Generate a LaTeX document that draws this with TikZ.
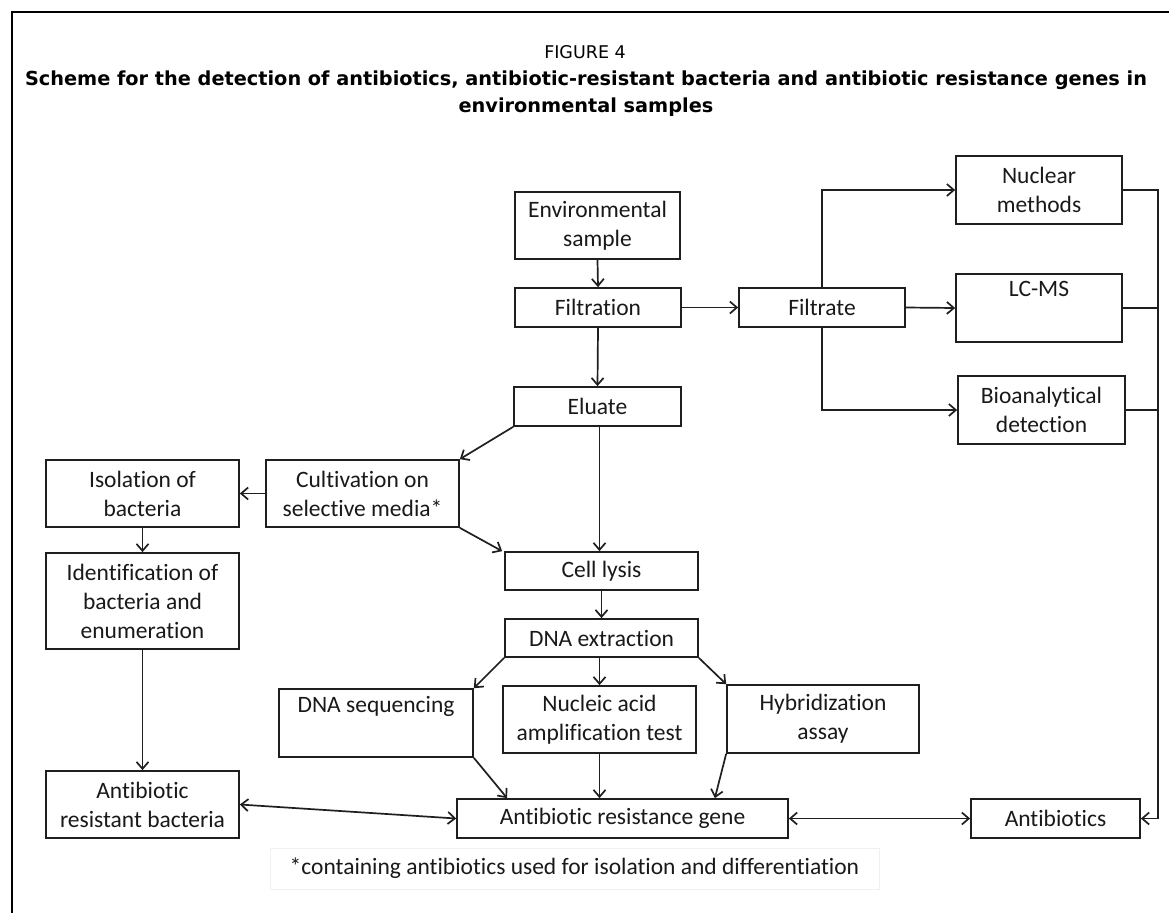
\documentclass[tikz,border=0pt]{standalone}
\usepackage{fontspec}
\setmainfont{Carlito}[Ligatures=NoCommon]
\newfontfamily\titlefont{DejaVu Sans}
\usetikzlibrary{arrows.meta,calc}
\begin{document}
\begin{tikzpicture}[x=1pt,y=-1pt,
  box/.style={draw=black!88, line width=1.7pt, inner sep=0pt, align=center,
    font=\fontsize{23.5}{29}\selectfont, text=black!90},
  arr/.style={draw=black!88, line width=1.7pt, -{Straight Barb[length=7pt,width=12pt]}},
  darr/.style={draw=black!88, line width=1.7pt, {Straight Barb[length=7pt,width=12pt]}-{Straight Barb[length=7pt,width=12pt]}},
  ln/.style={draw=black!88, line width=1.7pt},
  ttl/.style={inner sep=0pt, text=black, font=\titlefont\fontsize{17.5}{21}\selectfont},
  ttlb/.style={inner sep=0pt, text=black, font=\titlefont\bfseries\fontsize{19.3}{23}\selectfont}]
\useasboundingbox (0,0) rectangle (1169,913);
\fill[white] (0,0) rectangle (1169,913);
\draw[line width=1.3pt] (12,913) -- (12,12) -- (1169,12);

% title
\node[ttl] (fig) at (585,52) {FIGURE 4};
\node[ttlb] (t1) at (586,80) {Scheme for the detection of antibiotics, antibiotic-resistant bacteria and antibiotic resistance genes in};
\node[ttlb] (t2) at (586,107) {environmental samples};

% boxes
\node[box, minimum width=165pt, minimum height=67pt] (env) at (597.5,225.5) {Environmental\\sample};
\node[box, minimum width=166pt, minimum height=39pt] (filt) at (598,307.5) {Filtration};
\node[box, minimum width=166pt, minimum height=39pt] (filtrate) at (822,307.5) {Filtrate};
\node[box, minimum width=166pt, minimum height=68pt] (nuc) at (1039,190) {Nuclear\\methods};
\node[box, minimum width=166pt, minimum height=68pt] (lcms) at (1039,308) {LC-MS\\\strut};
\node[box, minimum width=167pt, minimum height=68pt] (bio) at (1041.5,410) {Bioanalytical\\detection};
\node[box, minimum width=167pt, minimum height=39pt] (eluate) at (597.5,406.5) {Eluate};
\node[box, minimum width=193pt, minimum height=67pt] (cult) at (362.5,493.5) {Cultivation on\\selective media*};
\node[box, minimum width=193pt, minimum height=67pt] (iso) at (142.5,493.5) {Isolation of\\bacteria};
\node[box, minimum width=193pt, minimum height=96pt] (ident) at (142.5,601) {Identification of\\bacteria and\\enumeration};
\node[box, minimum width=193pt, minimum height=67pt] (arb) at (142.5,804.5) {Antibiotic\\resistant bacteria};
\node[box, minimum width=193pt, minimum height=38pt] (cell) at (601.5,571) {Cell lysis};
\node[box, minimum width=193pt, minimum height=38pt] (dnaex) at (601.5,638) {DNA extraction};
\node[box, minimum width=194pt, minimum height=68pt] (dnaseq) at (376,723) {DNA sequencing\\\strut};
\node[box, minimum width=193pt, minimum height=67pt] (naat) at (599.5,719.5) {Nucleic acid\\amplification test};
\node[box, minimum width=192pt, minimum height=68pt] (hyb) at (823,719) {Hybridization\\assay};
\node[box, minimum width=331pt, minimum height=39pt] (arg) at (622.5,818.5) {Antibiotic resistance gene};
\node[box, minimum width=169pt, minimum height=39pt] (abx) at (1055.5,818.5) {Antibiotics};
\node[box, draw=black!6, line width=1pt, minimum width=609pt, minimum height=41pt] (foot) at (574.5,868.5) {*containing antibiotics used for isolation and differentiation};

% connectors
\draw[arr] (env.south) -- (filt.north);
\draw[arr] (filt.east) -- (filtrate.west);
\draw[arr] (filt.south) -- (eluate.north);
\draw[arr] (filtrate.north) |- (nuc.west);
\draw[arr] (filtrate.east) -- (lcms.west);
\draw[arr] (filtrate.south) |- (bio.west);
\coordinate (rail) at (1158,190);
\draw[arr] (nuc.east) -- (rail) |- (abx.east);
\draw[ln] (lcms.east) -- (lcms.east -| rail);
\draw[ln] (bio.east) -- (bio.east -| rail);

\draw[arr] (eluate.south west) -- (cult.north east);
\draw[arr] ([xshift=2pt]eluate.south) -- ([xshift=2pt]cell.north -| eluate.south);
\draw[arr] (cult.west) -- (iso.east);
\draw[arr] (cult.south east) -- ([xshift=-2pt]cell.north west);
\draw[arr] (iso.south) -- (ident.north);
\draw[arr] (ident.south) -- (arb.north);
\draw[arr] (cell.south) -- (dnaex.north);
\draw[arr] (dnaex.south west) -- (dnaseq.north east);
\draw[arr] (naat.north |- dnaex.south) -- (naat.north);
\draw[arr] (dnaex.south east) -- (hyb.north west);
\draw[arr] (dnaseq.south east) -- ([xshift=51pt]arg.north west);
\draw[arr] (naat.south) -- (naat.south |- arg.north);
\draw[arr] (hyb.south west) -- ([xshift=-74pt]arg.north east);
\draw[darr] (arb.east) -- (arg.west);
\draw[darr] (arg.east) -- (abx.west);
\end{tikzpicture}
\end{document}
